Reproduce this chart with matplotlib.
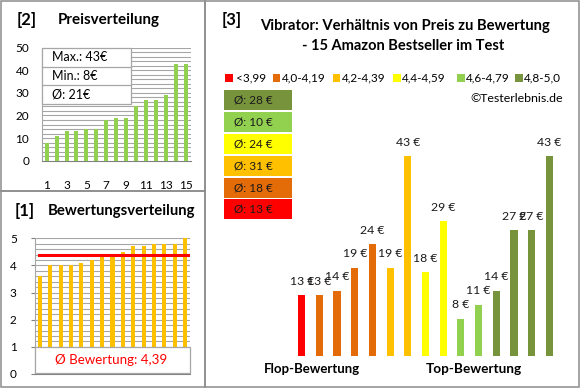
import matplotlib
matplotlib.use("Agg")
import matplotlib.pyplot as plt
from matplotlib.patches import Rectangle

plt.rcParams['font.family'] = ['Lato', 'DejaVu Sans']

# ---------------- data ----------------
positions = list(range(1, 16))
prices_sorted = [8, 11, 13, 13, 14, 14, 18, 19, 19, 24, 27, 27, 29, 43, 43]
ratings_sorted = [3.6, 4.0, 4.0, 4.0, 4.1, 4.2, 4.3, 4.4, 4.5, 4.7, 4.7, 4.8, 4.8, 4.8, 5.0]
product_ratings = [3.6, 4.0, 4.0, 4.0, 4.1, 4.2, 4.3, 4.4, 4.5, 4.7, 4.7, 4.8, 4.8, 4.8, 5.0]
product_prices = [13, 13, 14, 19, 24, 19, 43, 18, 29, 8, 11, 14, 27, 27, 43]
cat_labels = ['<3,99', '4,0-4,19', '4,2-4,39', '4,4-4,59', '4,6-4,79', '4,8-5,0']
cat_bounds = [4.0, 4.2, 4.4, 4.6, 4.8]
cat_colors = ['#FF0000', '#E36C09', '#FFC000', '#FFFF00', '#92D050', '#77933C']
price_yticks = [0, 10, 20, 30, 40, 50]
price_xticks = [1, 3, 5, 7, 9, 11, 13, 15]
rating_yticks = [0, 1, 2, 3, 4, 5]

W, H = 580, 390
fig = plt.figure(figsize=(W / 100, H / 100), dpi=100)
renderer = fig.canvas.get_renderer()


def rect(x0, y0, x1, y1):
    return [x0 / W, 1 - y1 / H, (x1 - x0) / W, (y1 - y0) / H]


ov = fig.add_axes([0, 0, 1, 1], zorder=10)
ov.set_xlim(0, W)
ov.set_ylim(H, 0)
ov.axis('off')
ov.patch.set_alpha(0)


def txt(x, y, s, width=None, size=10, **kw):
    kw.setdefault('va', 'center')
    t = ov.text(x, y, s, fontsize=size, **kw)
    if width:
        bb = t.get_window_extent(renderer)
        t.set_fontsize(size * width / bb.width)
    return t


GRID = '#A6A6A6'
TICKC = '#000000'

# ---------------- panel borders ----------------
for (x0, y0, x1, y1) in [(1, 1, 205, 191), (1, 191, 205, 387), (205, 1, 579, 387)]:
    ov.add_patch(Rectangle((x0, y0), x1 - x0, y1 - y0, fill=False,
                           edgecolor='#8C8C8C', lw=1.1))

# ---------------- [2] Preisverteilung ----------------
ax2 = fig.add_axes(rect(41.7, 47.7, 190.7, 160.7))
ax2.bar(positions, prices_sorted, width=0.4, color='#92D050', zorder=3)
ax2.set_xlim(0.5, 15.5)
ax2.set_ylim(0, 50)
for g in range(2, 51, 2):
    ax2.axhline(g, color=GRID, lw=0.8, zorder=1)
ax2.set_yticks(price_yticks)
ax2.set_xticks(price_xticks)
ax2.tick_params(axis='y', length=0, pad=9, labelsize=8.5, colors=TICKC)
ax2.tick_params(axis='x', length=0, pad=14, labelsize=8.5, colors=TICKC)
for sp in ['top', 'right']:
    ax2.spines[sp].set_visible(False)
ax2.spines['left'].set_color(GRID)
ax2.spines['bottom'].set_color('#808080')

txt(17, 20, '[2]', size=12, fontweight='bold', ha='left')
txt(58, 20, 'Preisverteilung', width=102, size=10, fontweight='bold', ha='left')

# stats box
pmax, pmin = max(prices_sorted), min(prices_sorted)
pavg = sum(prices_sorted) / len(prices_sorted)
box_x0, box_x1 = 41.7, 130.5
rows = [47.7, 66.7, 85.0, 103.8]
ov.add_patch(Rectangle((box_x0, rows[0]), box_x1 - box_x0, rows[-1] - rows[0],
                       facecolor='white', edgecolor='#A6A6A6', lw=0.9))
for r in rows[1:-1]:
    ov.plot([box_x0, box_x1], [r, r], color='#A6A6A6', lw=0.9)
stat_texts = [f'Max.: {pmax}€', f'Min.: {pmin}€', f'Ø: {int(pavg)}€']
for i, s in enumerate(stat_texts):
    txt(52, (rows[i] + rows[i + 1]) / 2, s, size=9, ha='left')

# ---------------- [1] Bewertungsverteilung ----------------
ax1 = fig.add_axes(rect(34.8, 238.3, 190.2, 374))
ax1.bar(positions, ratings_sorted, width=0.4, color='#FFC000', zorder=3)
ax1.set_xlim(0.5, 15.5)
ax1.set_ylim(0, 5)
for k in range(1, 26):
    ax1.axhline(k * 0.2, color=GRID, lw=0.8, zorder=1)
ravg = sum(product_ratings) / len(product_ratings)
ax1.plot([0.9, 15.3], [ravg, ravg], color='#FF0000', lw=2.2, zorder=4)
ax1.set_yticks(rating_yticks)
ax1.set_xticks([])
ax1.tick_params(axis='y', length=3, pad=10, labelsize=8.5, colors=TICKC, color='#808080')
for sp in ['top', 'right']:
    ax1.spines[sp].set_visible(False)
ax1.spines['left'].set_color(GRID)
ax1.spines['bottom'].set_color('#808080')

txt(15, 211, '[1]', size=12, fontweight='bold', ha='left')
txt(48, 211, 'Bewertungsverteilung', width=147, size=10, fontweight='bold', ha='left')

ov.add_patch(Rectangle((35, 346.5), 155, 26.2, facecolor='white',
                       edgecolor='#A6A6A6', lw=0.9))
txt(111.5, 359.5, f'Ø Bewertung: {ravg:.2f}'.replace('.', ','), width=112, size=10,
    ha='center', color='#FF0000')

# ---------------- [3] Preis / Bewertung ----------------
def cat_index(r):
    idx = 0
    for b in cat_bounds:
        if r >= b:
            idx += 1
    return idx


cats = [cat_index(r) for r in product_ratings]
ax3 = fig.add_axes(rect(292.85, 123.7, 558.15, 355.7))
xs = list(range(len(product_prices)))
ax3.bar(xs, product_prices, width=0.41, color=[cat_colors[c] for c in cats])
ax3.set_xlim(-0.5, 14.5)
ax3.set_ylim(0, 50)
ax3.axis('off')
for x, v in zip(xs, product_prices):
    ax3.annotate(f'{v} €', (x, v), xytext=(0, 10), textcoords='offset points',
                 ha='center', va='center', fontsize=8.8, color='#1a1a1a')

txt(222, 20, '[3]', size=12, fontweight='bold', ha='left')
txt(405.3, 25.7, 'Vibrator: Verhältnis von Preis zu Bewertung', width=290, size=10,
    fontweight='bold', ha='center')
t2 = txt(403, 46, '- 15 Amazon Bestseller im Test', width=202, size=10,
         fontweight='bold', ha='center')

# legend
sq_x = [225, 272.7, 332.7, 393.3, 457.3, 515]
leg_size = None
for i, (sx, lab) in enumerate(zip(sq_x, cat_labels)):
    ov.add_patch(Rectangle((sx, 74.2), 7.5, 7.5, color=cat_colors[i], lw=0))
    if leg_size is None:
        t = txt(sx + 11, 78, lab, width=30, size=9, ha='left')
        leg_size = t.get_fontsize()
    else:
        txt(sx + 9, 78, lab, size=leg_size, ha='left')

txt(563, 98, '©Testerlebnis.de', width=93, size=9, ha='right')

# average boxes (top to bottom: best category first)
box_tops = [90, 111.7, 133.7, 156, 177.7, 199]
for j, top in enumerate(box_tops):
    c = len(cat_colors) - 1 - j
    vals = [p for p, k in zip(product_prices, cats) if k == c]
    avg = int(sum(vals) / len(vals) + 0.5)
    ov.add_patch(Rectangle((224, top), 68, 19.8, color=cat_colors[c], lw=0))
    txt(253, top + 10, f'Ø: {avg} €', size=leg_size, ha='center', color='#1a1a1a')

txt(312, 369, 'Flop-Bewertung', width=97, size=10, fontweight='bold', ha='center')
txt(474, 369, 'Top-Bewertung', width=96, size=10, fontweight='bold', ha='center')

fig.savefig('out.png', dpi=100)
